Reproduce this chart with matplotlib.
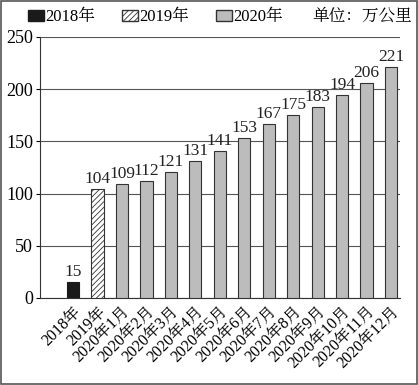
import matplotlib.pyplot as plt
from matplotlib.patches import Patch, Rectangle

plt.rcParams['font.family'] = ['Liberation Serif', 'Noto Serif CJK SC', 'Noto Sans CJK SC']
plt.rcParams['hatch.linewidth'] = 0.6

labels = ['2018年', '2019年'] + [f'2020年{m}月' for m in range(1, 13)]
values = [15, 104, 109, 112, 121, 131, 141, 153, 167, 175, 183, 194, 206, 221]
kinds = ['2018', '2019'] + ['2020'] * 12

fig = plt.figure(figsize=(4.18, 3.85), dpi=100)
ax = fig.add_axes([0.096, 0.226, 0.861, 0.678])

x = list(range(len(values)))
for i, (v, k) in enumerate(zip(values, kinds)):
    if k == '2018':
        ax.bar(i, v, width=0.5, color='#1a1a1a', edgecolor='#1a1a1a', linewidth=0.8, zorder=3)
    elif k == '2019':
        ax.bar(i, v, width=0.5, color='white', edgecolor='#333333', hatch='//////', linewidth=0.8, zorder=3)
    else:
        ax.bar(i, v, width=0.5, color='#bcbcbc', edgecolor='#333333', linewidth=0.8, zorder=3)
    ax.text(i, v + 2, str(v), ha='center', va='bottom', fontsize=12.5, color='#222222')

ax.set_ylim(0, 250)
ax.set_xlim(-1.35, 13.37)
ax.set_yticks(range(0, 251, 50))
ax.yaxis.grid(True, color='#555555', linewidth=0.8, zorder=0)
ax.set_xticks(x)
ax.set_xticklabels(labels, rotation=45, ha='right', rotation_mode='anchor', fontsize=11.5)
ax.tick_params(axis='x', length=0, pad=4)
ax.tick_params(axis='y', length=3, labelsize=13, direction='out', pad=2)
for s in ['top', 'right']:
    ax.spines[s].set_visible(False)
ax.spines['left'].set_color('#333333')
ax.spines['bottom'].set_color('#333333')

handles = [Patch(facecolor='#1a1a1a', edgecolor='#1a1a1a'),
           Patch(facecolor='white', edgecolor='#333333', hatch='//////'),
           Patch(facecolor='#bcbcbc', edgecolor='#333333')]
fig.legend(handles, ['2018年', '2019年', '2020年'], loc='center left', bbox_to_anchor=(0.05, 0.955),
           ncol=3, frameon=False, fontsize=12, handlelength=1.0, handleheight=0.7,
           handletextpad=0.05, columnspacing=1.6, borderaxespad=0)
fig.text(0.985, 0.955, '单位：万公里', ha='right', va='center', fontsize=12)

fig.patches.append(Rectangle((0.003, 0.003), 0.994, 0.994, transform=fig.transFigure,
                             fill=False, edgecolor='#555555', linewidth=1.2))

fig.savefig('out.png', dpi=100)
